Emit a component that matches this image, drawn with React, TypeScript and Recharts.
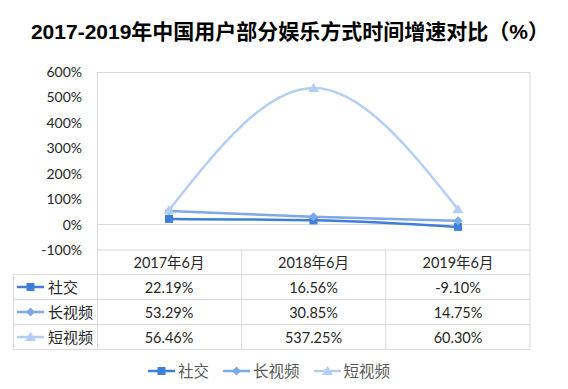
import React from 'react';
import { LineChart, Line, XAxis, YAxis, ReferenceLine } from 'recharts';

const categories = ['2017年6月', '2018年6月', '2019年6月'];
const socialValues = [22.19, 16.56, -9.1];
const longVideoValues = [53.29, 30.85, 14.75];
const shortVideoValues = [56.46, 537.25, 60.3];
const yTicks = [-100, 0, 100, 200, 300, 400, 500, 600];
const seriesNames = ['社交', '长视频', '短视频'];
const title = '2017-2019年中国用户部分娱乐方式时间增速对比（%）';

const COLORS = ['#3F7FD9', '#7EA8E6', '#B4CEF3'];
const SHAPES = ['square', 'diamond', 'triangle'];
const FONT = "Lato, 'Noto Sans CJK SC', sans-serif";
const GRID = '#D9D9D9';

const seriesValues = [socialValues, longVideoValues, shortVideoValues];
const data = categories.map((c, i) => ({
  cat: c,
  s0: socialValues[i],
  s1: longVideoValues[i],
  s2: shortVideoValues[i],
}));

const fmt = (v: number) => v.toFixed(2) + '%';

function Marker({ shape, cx, cy, color }: { shape: string; cx: number; cy: number; color: string }) {
  if (shape === 'square') return <rect x={cx - 4} y={cy - 4} width={8} height={8} fill={color} />;
  if (shape === 'diamond')
    return <polygon points={`${cx},${cy - 4.5} ${cx + 4.5},${cy} ${cx},${cy + 4.5} ${cx - 4.5},${cy}`} fill={color} />;
  return <polygon points={`${cx},${cy - 5} ${cx + 5.5},${cy + 4} ${cx - 5.5},${cy + 4}`} fill={color} />;
}

function LegendKey({ idx }: { idx: number }) {
  return (
    <svg width={27} height={12} style={{ display: 'block' }}>
      <line x1={0} y1={6} x2={27} y2={6} stroke={COLORS[idx]} strokeWidth={2.5} />
      <Marker shape={SHAPES[idx]} cx={13.5} cy={6} color={COLORS[idx]} />
    </svg>
  );
}

const TableTick = (props: any) => {
  const { x, payload } = props;
  const i = payload.index;
  return (
    <g>
      <text x={x} y={262} textAnchor="middle" dominantBaseline="central" fontSize={14.5} fill="#262626" fontFamily={FONT}>
        {payload.value}
      </text>
      {seriesValues.map((vals, k) => (
        <text key={k} x={x} y={287 + k * 25} textAnchor="middle" dominantBaseline="central" fontSize={14.5} fill="#262626" fontFamily={FONT}>
          {fmt(vals[i])}
        </text>
      ))}
    </g>
  );
};

export default function App() {
  const plotL = 97.5, plotR = 530, plotT = 72.5, plotB = 250;
  const colW = (plotR - plotL) / categories.length;
  const rowYs = [274.5, 299.5, 324.5, 349.5];
  return (
    <div style={{ position: 'absolute', left: 0, top: 0, width: 568, height: 389, background: '#fff', fontFamily: FONT }}>
      <svg width={568} height={389} style={{ position: 'absolute', left: 0, top: 0 }}>
        <rect x={plotL} y={plotT} width={plotR - plotL} height={plotB - plotT} fill="none" stroke={GRID} strokeWidth={1} />
        {categories.map((_, k) => (
          <line key={k} x1={plotL + (k + 1) * colW} y1={plotB} x2={plotL + (k + 1) * colW} y2={349.5} stroke={GRID} />
        ))}
        <line x1={plotL} y1={plotB} x2={plotL} y2={349.5} stroke={GRID} />
        <line x1={13.5} y1={274.5} x2={13.5} y2={349.5} stroke={GRID} />
        {rowYs.map((y, k) => (
          <line key={k} x1={13.5} y1={y} x2={plotR} y2={y} stroke={GRID} />
        ))}
      </svg>
      <div
        style={{
          position: 'absolute', left: 6, top: 18, width: 568, textAlign: 'center',
          fontSize: 21, fontWeight: 'bold', color: '#000', lineHeight: '28px',
          fontFamily: "'Liberation Sans', 'Noto Sans CJK SC', sans-serif", whiteSpace: 'nowrap',
        }}
      >
        {title}
      </div>
      <div style={{ position: 'absolute', left: 0, top: 0 }}>
        <LineChart width={568} height={389} data={data} margin={{ top: 72, right: 38, left: 0, bottom: 0 }}>
          <XAxis
            dataKey="cat"
            height={139}
            axisLine={false}
            tickLine={false}
            tick={<TableTick />}
            interval={0}
            padding={{ left: 72, right: 72 }}
          />
          <YAxis
            domain={[-100, 600]}
            ticks={yTicks}
            width={97}
            axisLine={false}
            tickLine={false}
            tickMargin={9}
            tickFormatter={(v: number) => v + '%'}
            tick={{ fontSize: 14, fill: '#262626', fontFamily: FONT }}
          />
          <ReferenceLine y={0} stroke={GRID} strokeWidth={1} />
          {[0, 1, 2].map((k) => (
            <Line
              key={k}
              type="monotone"
              dataKey={'s' + k}
              name={seriesNames[k]}
              stroke={COLORS[k]}
              strokeWidth={2.5}
              isAnimationActive={false}
              dot={(p: any) => <Marker key={p.index} shape={SHAPES[k]} cx={p.cx} cy={p.cy} color={COLORS[k]} />}
              activeDot={false}
            />
          ))}
        </LineChart>
      </div>
      {seriesNames.map((n, k) => (
        <div key={k} style={{ position: 'absolute', left: 17, top: 287 + k * 25 - 10, height: 20, display: 'flex', alignItems: 'center', gap: 4 }}>
          <LegendKey idx={k} />
          <span style={{ fontSize: 15, color: '#262626', lineHeight: '20px' }}>{n}</span>
        </div>
      ))}
      <div style={{ position: 'absolute', left: 148, top: 361, height: 20, display: 'flex', alignItems: 'center' }}>
        {seriesNames.map((n, k) => (
          <div key={k} style={{ display: 'flex', alignItems: 'center', gap: 3, marginRight: 14 }}>
            <LegendKey idx={k} />
            <span style={{ fontSize: 15.5, color: '#595959', lineHeight: '20px' }}>{n}</span>
          </div>
        ))}
      </div>
    </div>
  );
}
